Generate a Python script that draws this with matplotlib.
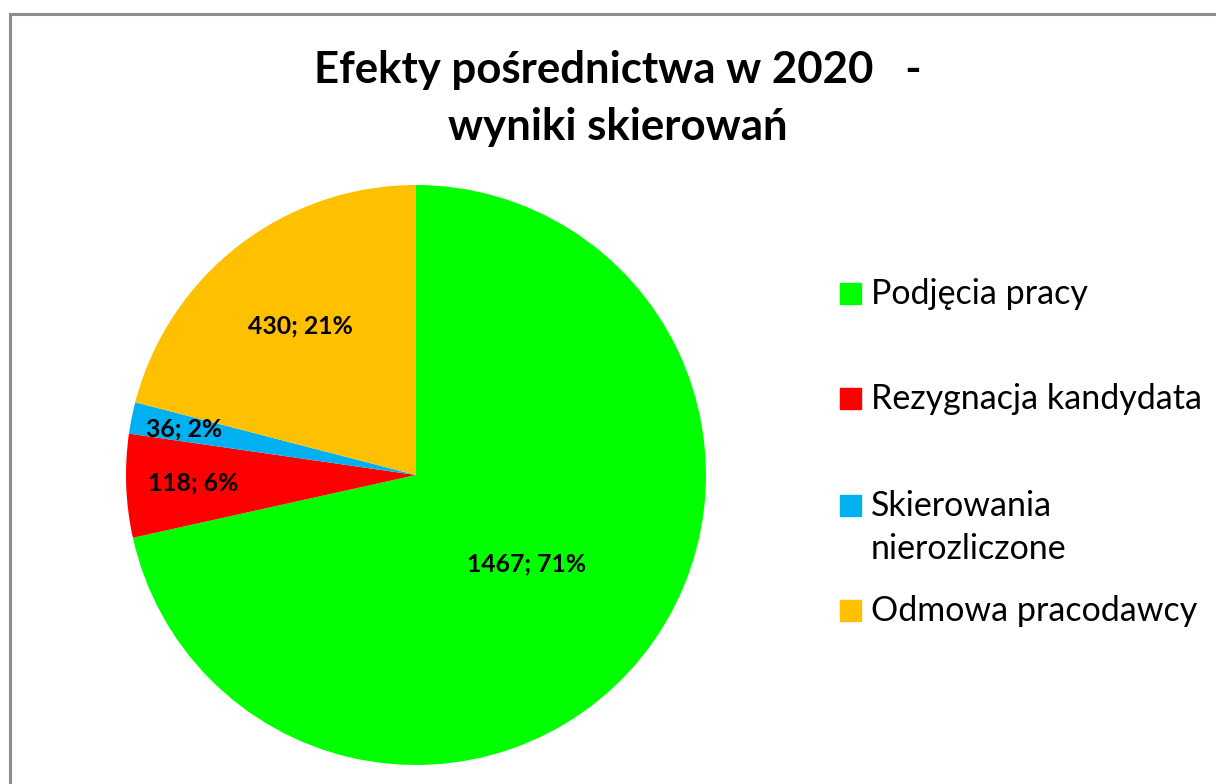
import matplotlib
matplotlib.use("Agg")
import matplotlib.pyplot as plt
from matplotlib.patches import Rectangle
import numpy as np

categories = ["Podjęcia pracy", "Rezygnacja kandydata", "Skierowania\nnierozliczone", "Odmowa pracodawcy"]
values = [1467, 118, 36, 430]
percents = [71, 6, 2, 21]
colors = ["#00FF00", "#FF0000", "#00B0F0", "#FFC000"]
title_lines = ["Efekty pośrednictwa w 2020   -", "wyniki skierowań"]

plt.rcParams['font.family'] = ['Lato', 'DejaVu Sans']

W, H = 1216, 784
fig = plt.figure(figsize=(W / 100, H / 100), dpi=100)

# chart border (top and left visible)
fig.patches.append(Rectangle((9.5 / W, -0.1), 1.2, (H - 13.5) / H + 0.1,
                             transform=fig.transFigure, fill=False,
                             edgecolor="#8c8c8c", linewidth=2.2))

cx, cy, r = 416, 475, 290
ax = fig.add_axes([(cx - r) / W, (H - cy - r) / H, 2 * r / W, 2 * r / H])
wedges, _ = ax.pie(values, colors=colors, startangle=90, counterclock=False,
                   radius=1, wedgeprops=dict(linewidth=0))
ax.set_xlim(-1, 1)
ax.set_ylim(-1, 1)
ax.axis("off")

label_dist = [0.49, 0.77, 0.815, 0.65]
for w, v, p, d in zip(wedges, values, percents, label_dist):
    ang = np.deg2rad((w.theta1 + w.theta2) / 2)
    ax.text(d * np.cos(ang), d * np.sin(ang), f"{v}; {p}%", ha="center", va="center",
            fontsize=17.8, fontweight="bold", color="black")

for i, line in enumerate(title_lines):
    fig.text(618 / W, 1 - (70 + 57 * i) / H, line, ha="center", va="center",
             fontsize=31.5, fontweight="bold")

# legend
ys = [293, 398, 505, 610]
for lab, col, y in zip(categories, colors, ys):
    fig.patches.append(Rectangle((840 / W, 1 - (y + 10.5) / H), 21 / W, 21 / H,
                                 transform=fig.transFigure, color=col))
    for j, part in enumerate(lab.split("\n")):
        fig.text(871 / W, 1 - (y + 1 + 43 * j) / H, part, ha="left", va="center",
                 fontsize=24.5)

fig.savefig("out.png", dpi=100)
